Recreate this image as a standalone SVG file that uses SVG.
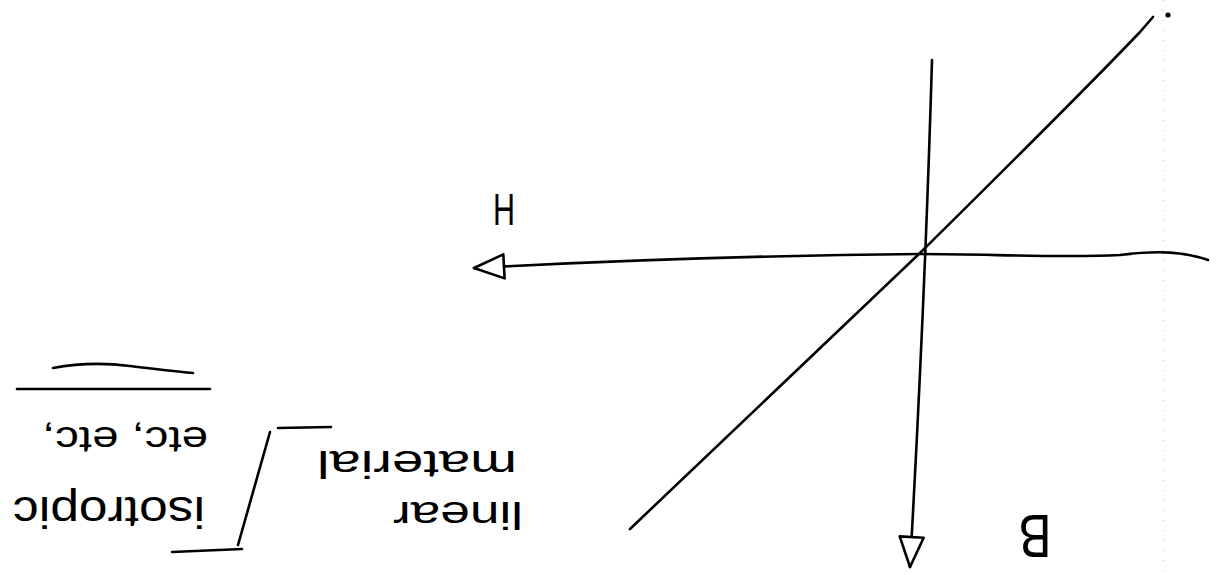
<svg xmlns="http://www.w3.org/2000/svg" width="1224" height="575" viewBox="0 0 1224 575">
  <style>
    .ink { fill: none; stroke: #000; stroke-width: 2.6; stroke-linecap: round; stroke-linejoin: round; }
    .hand { font-family: "Liberation Sans", "DejaVu Sans", sans-serif; fill: #000; }
    .scan { fill: none; stroke: #bbb; stroke-width: 1; stroke-dasharray: 1 9; }
  </style>
  <defs>
    <marker id="openArrow" markerUnits="userSpaceOnUse" markerWidth="40" markerHeight="30" viewBox="-34 -15 38 30" refX="0" refY="0" orient="auto">
      <path d="M0,0 L-30,-12 L-30,12 Z" fill="#fff" stroke="#000" stroke-width="2.6" stroke-linejoin="round"/>
    </marker>
  </defs>
  <rect width="1224" height="575" fill="#fff"/>

  <!-- faint scan artefacts -->
  <line class="scan" x1="1163" y1="0" x2="1163" y2="575"/>
  <circle cx="1168" cy="15" r="2.6" fill="#000"/>

  <g id="connectors">
    <path id="axis-H" class="ink" d="M1208,260 C1185,252 1160,250 1120,255 C1060,258 990,254 920,254 Q700,256 474,268" marker-end="url(#openArrow)"/>
    <path id="axis-B" class="ink" d="M932,60 Q925,300 910,567" marker-end="url(#openArrow)"/>
    <path id="line-BH" class="ink" d="M630,529 L920,253 Q1080,95 1140,32 L1153,17"/>
  </g>

  <g id="label-H">
    <text class="hand" x="504" y="225" font-size="44" text-anchor="middle" textLength="22" lengthAdjust="spacingAndGlyphs">H</text>
  </g>
  <g id="label-B">
    <text class="hand" x="1035" y="515" font-size="62" text-anchor="middle" textLength="33" lengthAdjust="spacingAndGlyphs" transform="rotate(180 1035 515)">B</text>
  </g>

  <g id="note-linear-material">
    <text class="hand" x="417" y="451" font-size="38" text-anchor="middle" textLength="200" lengthAdjust="spacingAndGlyphs" transform="rotate(180 417 451)">material</text>
    <text class="hand" x="458" y="502" font-size="38" text-anchor="middle" textLength="130" lengthAdjust="spacingAndGlyphs" transform="rotate(180 458 502)">linear</text>
  </g>

  <g id="bracket">
    <path class="ink" d="M331,427 L278,428 M270,432 L238,545 M242,549 L172,552"/>
  </g>

  <g id="note-isotropic">
    <text class="hand" x="109" y="497" font-size="44" text-anchor="middle" textLength="192" lengthAdjust="spacingAndGlyphs" transform="rotate(180 109 497)">isotropic</text>
    <text class="hand" x="125" y="427" font-size="36" text-anchor="middle" textLength="166" lengthAdjust="spacingAndGlyphs" transform="rotate(180 125 427)">etc, etc,</text>
    <path class="ink" d="M17,389 L210,389"/>
    <path class="ink" d="M53,368 Q90,361 130,366 T193,373"/>
  </g>
</svg>
